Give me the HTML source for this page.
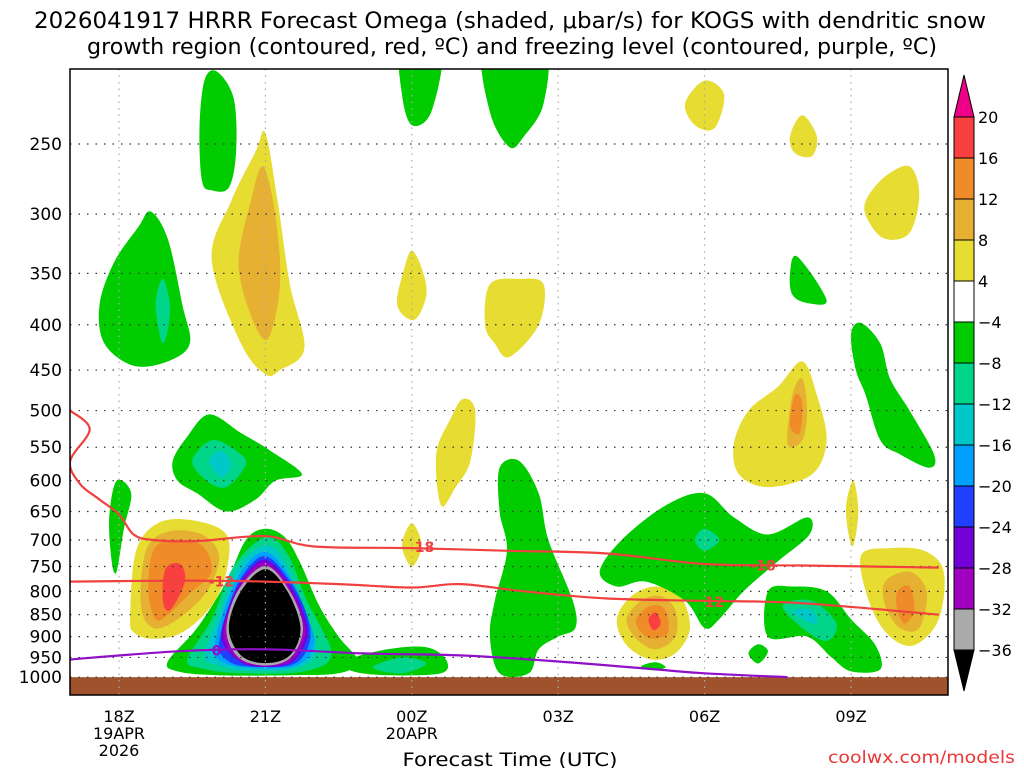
<!DOCTYPE html>
<html><head><meta charset="utf-8"><style>
html,body{margin:0;padding:0;background:#fff;}
svg{display:block;font-family:"DejaVu Sans","Liberation Sans",sans-serif;}
</style></head><body>
<svg id="chart" width="1024" height="768" viewBox="0 0 1024 768" xmlns="http://www.w3.org/2000/svg">
<text x="510" y="28" font-size="22" text-anchor="middle" textLength="952" lengthAdjust="spacingAndGlyphs" fill="#000">2026041917 HRRR Forecast Omega (shaded, μbar/s) for KOGS with dendritic snow</text>
<text x="512" y="54" font-size="22" text-anchor="middle" textLength="850" lengthAdjust="spacingAndGlyphs" fill="#000">growth region (contoured, red, ºC) and freezing level (contoured, purple, ºC)</text>
<defs><clipPath id="plotclip"><rect x="70" y="69" width="878" height="626"/></clipPath></defs>
<g id="fills" clip-path="url(#plotclip)"></g>
<g id="grid" clip-path="url(#plotclip)"></g>
<g id="lines" clip-path="url(#plotclip)"></g>
<rect x="70" y="69" width="878" height="626" fill="none" stroke="#000" stroke-width="1.5"/>
<g id="axes"></g>
<g id="cbar"></g>
<text x="510" y="766" font-size="19" text-anchor="middle" textLength="215" lengthAdjust="spacingAndGlyphs">Forecast Time (UTC)</text>
<text x="1015" y="763" font-size="17" text-anchor="end" fill="#e83838" textLength="187" lengthAdjust="spacingAndGlyphs">coolwx.com/models</text>
</svg>
<script>
const NS='http://www.w3.org/2000/svg';
// ---- data ----
const pressureTicks=[250,300,350,400,450,500,550,600,650,700,750,800,850,900,950,1000];
const hourTicks=[0,3,6,9,12,15];
const hourLabels=[['18Z','19APR','2026'],['21Z'],['00Z','20APR'],['03Z'],['06Z'],['09Z']];
const cbarLevels=['20','16','12','8','4','−4','−8','−12','−16','−20','−24','−28','−32','−36'];
const cbarColors=['#f84040','#f08c28','#e6b032','#e6dc32','#ffffff','#00cc00','#00d58a','#00c8c8','#00a0ff','#2040ff','#7400d8','#a000c0','#aaaaaa'];
const Y='#e6dc32',GO='#e6b032',OR='#f08c28',RD='#f84040',GN='#00cc00',TG='#00d58a',CY='#00c8c8',BL='#00a0ff',NB='#2040ff',PU='#7400d8',MA='#a000c0',GR='#aaaaaa',BK='#000000';
const blobColors=[GN,GN,TG,Y,GO,GN,TG,CY,GN,Y,GO,OR,RD,
 GN,TG,CY,BL,NB,PU,MA,GR,BK,
 GN,TG,Y,GN,Y,Y,GN,Y,GN,
 Y,GO,OR,RD,GN,TG,Y,GO,OR,GN,TG,CY,GN,Y,Y,Y,GN,Y,Y,GO,OR,GN,GN];
const blobShapes=[
 [[1.7,275],[1.65,240],[1.75,212],[2.0,207],[2.35,222],[2.4,255],[2.25,280],[1.9,282]],
 [[-0.4,380],[-0.1,340],[0.4,310],[0.65,298],[1.0,320],[1.3,380],[1.45,420],[1.0,440],[0.3,445],[-0.3,420]],
 [[0.75,380],[0.9,355],[1.05,385],[0.9,420]],
 [[1.9,338],[2.3,290],[2.8,255],[3.0,243],[3.25,290],[3.5,360],[3.8,425],[3.3,450],[3.0,455],[2.5,420]],
 [[2.45,340],[2.7,290],[2.95,265],[3.2,300],[3.3,360],[3.05,415],[2.7,390]],
 [[1.1,570],[1.4,535],[1.85,505],[2.5,530],[3.1,555],[3.75,590],[3.2,600],[2.8,630],[2.2,650],[1.6,620],[1.2,600]],
 [[1.5,570],[1.9,540],[2.4,555],[2.6,575],[2.2,610],[1.8,600]],
 [[1.85,570],[2.1,555],[2.3,575],[2.1,595]],
 [[-0.2,660],[-0.05,600],[0.25,620],[0.1,680],[-0.05,760],[-0.15,740]],
 [[0.23,850],[0.35,720],[0.8,670],[1.5,665],[2.2,690],[2.2,760],[1.9,830],[1.3,890],[0.7,905],[0.3,890]],
 [[0.45,830],[0.55,720],[1.0,685],[1.7,690],[2.05,730],[1.8,800],[1.2,860],[0.7,880]],
 [[0.6,800],[0.7,720],[1.1,700],[1.7,710],[1.9,760],[1.5,800],[1.0,850],[0.75,860]],
 [[0.9,820],[0.95,755],[1.25,745],[1.35,780],[1.05,840]],
 [[1.0,960],[1.6,880],[2.2,780],[2.6,700],[3.0,680],[3.4,695],[3.7,740],[4.1,830],[4.5,900],[4.9,960],[4.5,990],[3.5,995],[2.0,995],[1.2,985]],
 [[1.4,955],[1.9,860],[2.35,750],[3.0,695],[3.45,725],[3.85,820],[4.35,940],[3.8,985],[2.5,990],[1.7,978]],
 [[1.75,945],[2.05,850],[2.45,750],[3.0,710],[3.4,740],[3.7,820],[4.05,930],[3.6,978],[2.5,982],[2.0,968]],
 [[1.95,930],[2.15,840],[2.5,760],[3.0,722],[3.5,770],[3.85,850],[4.0,920],[3.6,972],[2.6,976],[2.1,960]],
 [[2.05,920],[2.25,830],[2.55,765],[3.0,730],[3.5,778],[3.85,850],[3.9,915],[3.55,968],[2.6,972],[2.2,955]],
 [[2.1,905],[2.3,820],[2.6,765],[3.0,737],[3.45,778],[3.8,850],[3.85,905],[3.55,962],[3.0,974],[2.5,962]],
 [[2.15,895],[2.35,815],[2.65,765],[3.0,743],[3.45,785],[3.77,860],[3.8,905],[3.52,958],[3.0,970],[2.45,955]],
 [[2.2,885],[2.43,800],[3.0,749],[3.5,800],[3.77,880],[3.52,950],[3.0,970],[2.45,950]],
 [[2.25,880],[2.5,800],[3.0,755],[3.45,800],[3.72,880],[3.5,945],[3.0,964],[2.5,945]],
 [[4.6,960],[5.5,930],[6.3,925],[6.7,955],[6.6,990],[5.5,995],[4.8,985]],
 [[5.2,975],[5.8,950],[6.3,965],[5.8,990]],
 [[5.8,710],[6.0,670],[6.2,710],[6.0,750]],
 [[5.8,195],[6.6,195],[6.4,230],[6.0,238],[5.8,220]],
 [[5.7,380],[5.85,345],[6.0,330],[6.2,345],[6.3,370],[6.05,395]],
 [[6.5,560],[6.8,510],[7.05,485],[7.3,500],[7.2,570],[6.9,610],[6.6,640]],
 [[7.5,195],[8.7,195],[8.7,225],[8.3,245],[8.0,252],[7.6,230]],
 [[7.5,400],[7.6,360],[8.2,355],[8.7,360],[8.6,400],[8.0,435],[7.7,420]],
 [[7.8,580],[8.2,570],[8.6,620],[8.8,700],[9.3,820],[9.35,880],[9.0,900],[8.6,930],[8.4,990],[7.8,990],[7.6,900],[7.7,820],[7.95,720],[7.8,650]],
 [[10.2,860],[10.5,810],[11.0,790],[11.5,810],[11.7,880],[11.4,940],[10.9,955],[10.4,920]],
 [[10.4,860],[10.7,820],[11.1,810],[11.4,840],[11.4,900],[11.0,930],[10.6,905]],
 [[10.6,860],[10.9,830],[11.2,840],[11.25,890],[10.95,905],[10.7,890]],
 [[10.85,860],[11.0,845],[11.1,870],[10.95,885]],
 [[9.85,760],[10.3,700],[11.2,640],[12.0,620],[12.6,660],[13.3,690],[14.1,660],[14.15,690],[13.5,740],[12.8,800],[12.3,860],[12.0,880],[11.6,820],[10.8,780],[10.2,790]],
 [[11.8,700],[12.0,680],[12.3,700],[12.0,720]],
 [[12.6,545],[12.9,500],[13.5,470],[14.0,440],[14.3,480],[14.5,540],[14.2,590],[13.3,610],[12.7,590]],
 [[13.7,545],[13.8,480],[14.0,460],[14.1,500],[14.0,540]],
 [[13.75,520],[13.85,480],[14.0,490],[13.95,530]],
 [[13.3,800],[13.8,790],[14.5,800],[15.0,860],[15.5,920],[15.6,980],[15.0,985],[14.6,950],[14.1,900],[13.3,900]],
 [[13.6,830],[14.2,820],[14.7,870],[14.5,910],[14.0,880]],
 [[13.8,840],[14.2,840],[14.3,870],[14.0,860]],
 [[15.0,410],[15.2,398],[15.6,420],[15.8,460],[16.2,500],[16.7,560],[16.6,580],[16.0,560],[15.6,540],[15.3,480],[15.1,450]],
 [[15.3,290],[15.7,272],[16.2,265],[16.4,285],[16.2,315],[15.7,320],[15.35,305]],
 [[11.6,225],[12.0,212],[12.4,220],[12.2,240],[11.8,238]],
 [[13.75,245],[14.0,232],[14.3,245],[14.2,258],[13.85,256]],
 [[13.75,350],[13.9,335],[14.5,375],[14.1,378],[13.8,370]],
 [[14.9,640],[15.05,600],[15.15,650],[15.05,710],[14.95,690]],
 [[15.2,730],[15.8,715],[16.5,720],[16.9,760],[16.8,860],[16.3,920],[15.8,900],[15.4,830]],
 [[15.7,780],[16.2,760],[16.55,800],[16.4,880],[16.0,880],[15.7,830]],
 [[15.95,800],[16.2,790],[16.3,840],[16.1,870],[15.95,840]],
 [[12.9,940],[13.1,918],[13.3,935],[13.1,965]],
 [[10.7,972],[11.0,962],[11.2,975],[10.9,982]]
];
const dgzUpperH=[-1.0,-0.6,-1.0,-0.8,-0.4,0.0,0.3,0.7,1.6,3.0,4.0,6.0,8.0,10.0,12.0,14.0,16.8];
const dgzUpperP=[500,525,570,605,630,655,690,700,702,693,712,715,720,725,745,748,752];
const dgzLowerH=[-1.0,1.5,3.0,4.5,6.0,7.0,8.3,10.0,12.0,14.0,16.8];
const dgzLowerP=[780,778,780,785,792,785,800,815,820,825,850];
const frzH=[-1.0,1.2,3.0,5.0,7.0,9.0,11.0,12.0,13.7];
const frzP=[955,935,930,940,945,960,980,990,1000];
// ---- axes ----
const X=h=>119+h*48.8;
const Yp=p=>144+384.6*Math.log(p/250);
function el(tag,attrs,parent){const e=document.createElementNS(NS,tag);for(const k in attrs)e.setAttribute(k,attrs[k]);parent.appendChild(e);return e;}
function smooth(pts){const n=pts.length;let d='M'+pts[0][0].toFixed(1)+','+pts[0][1].toFixed(1);
 for(let i=0;i<n;i++){const p0=pts[(i-1+n)%n],p1=pts[i],p2=pts[(i+1)%n],p3=pts[(i+2)%n];
  const c1=[p1[0]+(p2[0]-p0[0])/6,p1[1]+(p2[1]-p0[1])/6],c2=[p2[0]-(p3[0]-p1[0])/6,p2[1]-(p3[1]-p1[1])/6];
  d+='C'+c1[0].toFixed(1)+','+c1[1].toFixed(1)+' '+c2[0].toFixed(1)+','+c2[1].toFixed(1)+' '+p2[0].toFixed(1)+','+p2[1].toFixed(1);}
 return d+'Z';}
function openSmooth(pts){let d='M'+pts[0][0].toFixed(1)+','+pts[0][1].toFixed(1);const n=pts.length;
 for(let i=0;i<n-1;i++){const p0=pts[Math.max(i-1,0)],p1=pts[i],p2=pts[i+1],p3=pts[Math.min(i+2,n-1)];
  const c1=[p1[0]+(p2[0]-p0[0])/6,p1[1]+(p2[1]-p0[1])/6],c2=[p2[0]-(p3[0]-p1[0])/6,p2[1]-(p3[1]-p1[1])/6];
  d+='C'+c1[0].toFixed(1)+','+c1[1].toFixed(1)+' '+c2[0].toFixed(1)+','+c2[1].toFixed(1)+' '+p2[0].toFixed(1)+','+p2[1].toFixed(1);}
 return d;}
const fills=document.getElementById('fills');
blobShapes.forEach((s,i)=>{
 const pe=el('path',{d:smooth(s.map(q=>[X(q[0]),Yp(q[1])])),fill:blobColors[i]},fills);
 
 
});
const ground=el('rect',{x:70,y:Yp(1000),width:878,height:700-Yp(1000),fill:'#a0522d'},fills);


const grid=document.getElementById('grid');
pressureTicks.forEach(p=>{const g=el('line',{x1:70,x2:948,y1:Yp(p),y2:Yp(p),stroke:'#333',"stroke-width":1.2,"stroke-dasharray":"1.5 7"},grid);
 
 });
hourTicks.forEach(h=>{const g=el('line',{x1:X(h),x2:X(h),y1:69,y2:695,stroke:'#aaa',"stroke-width":1.2,"stroke-dasharray":"1.5 5"},grid);
 
 });
const lines=document.getElementById('lines');
function drawLine(H,P,color,name){const pts=H.map((h,i)=>[X(h),Yp(P[i])]);
 const l=el('path',{d:openSmooth(pts),fill:'none',stroke:color,"stroke-width":2.2},lines);
 
 }
drawLine(dgzUpperH,dgzUpperP,'#f04040','dgz-minus18-line');
drawLine(dgzLowerH,dgzLowerP,'#f04040','dgz-minus12-line');
drawLine(frzH,frzP,'#9010c8','freezing-level-line');
function lineLabel(h,p,t,c,name){const bg=el('rect',{x:X(h)-14,y:Yp(p)-7,width:28,height:14,fill:'none'},lines);
 const tx=el('text',{x:X(h),y:Yp(p)+5,"font-size":14,"font-weight":"bold","text-anchor":"middle",fill:c},lines);tx.textContent=t;
 
 }
lineLabel(6.2,713,'-18','#f04040','label-minus18');
lineLabel(13.2,748,'-18','#f04040','label-minus18-right');
lineLabel(2.1,780,'-12','#f04040','label-minus12');
lineLabel(12.2,822,'12','#f04040','label-minus12-right');
lineLabel(2.0,933,'0','#9010c8','label-freezing');
const axes=document.getElementById('axes');
pressureTicks.forEach(p=>{const t=el('text',{x:62,y:Yp(p)+6,"font-size":17,"text-anchor":"end"},axes);t.textContent=p;
 
 });
hourTicks.forEach((h,i)=>{hourLabels[i].forEach((s,j)=>{const t=el('text',{x:X(h),y:722+j*17,"font-size":16,"text-anchor":"middle"},axes);t.textContent=s;
 
 });});
// colorbar
const cb=document.getElementById('cbar');
const cbTop=117,cbStep=(650-117)/13;
cbarColors.forEach((c,i)=>{const r=el('rect',{x:954,y:cbTop+i*cbStep,width:20,height:cbStep,fill:c,stroke:'#000',"stroke-width":1},cb);
 
 });
const tu=el('polygon',{points:'954,117 974,117 964,75',fill:'#ee0088',stroke:'#000'},cb);


const td=el('polygon',{points:'954,650 974,650 964,691',fill:'#000',stroke:'#000'},cb);


cbarLevels.forEach((s,i)=>{const t=el('text',{x:978,y:cbTop+i*cbStep+6,"font-size":16},cb);t.textContent=s;
 
 });
</script>
</body></html>
